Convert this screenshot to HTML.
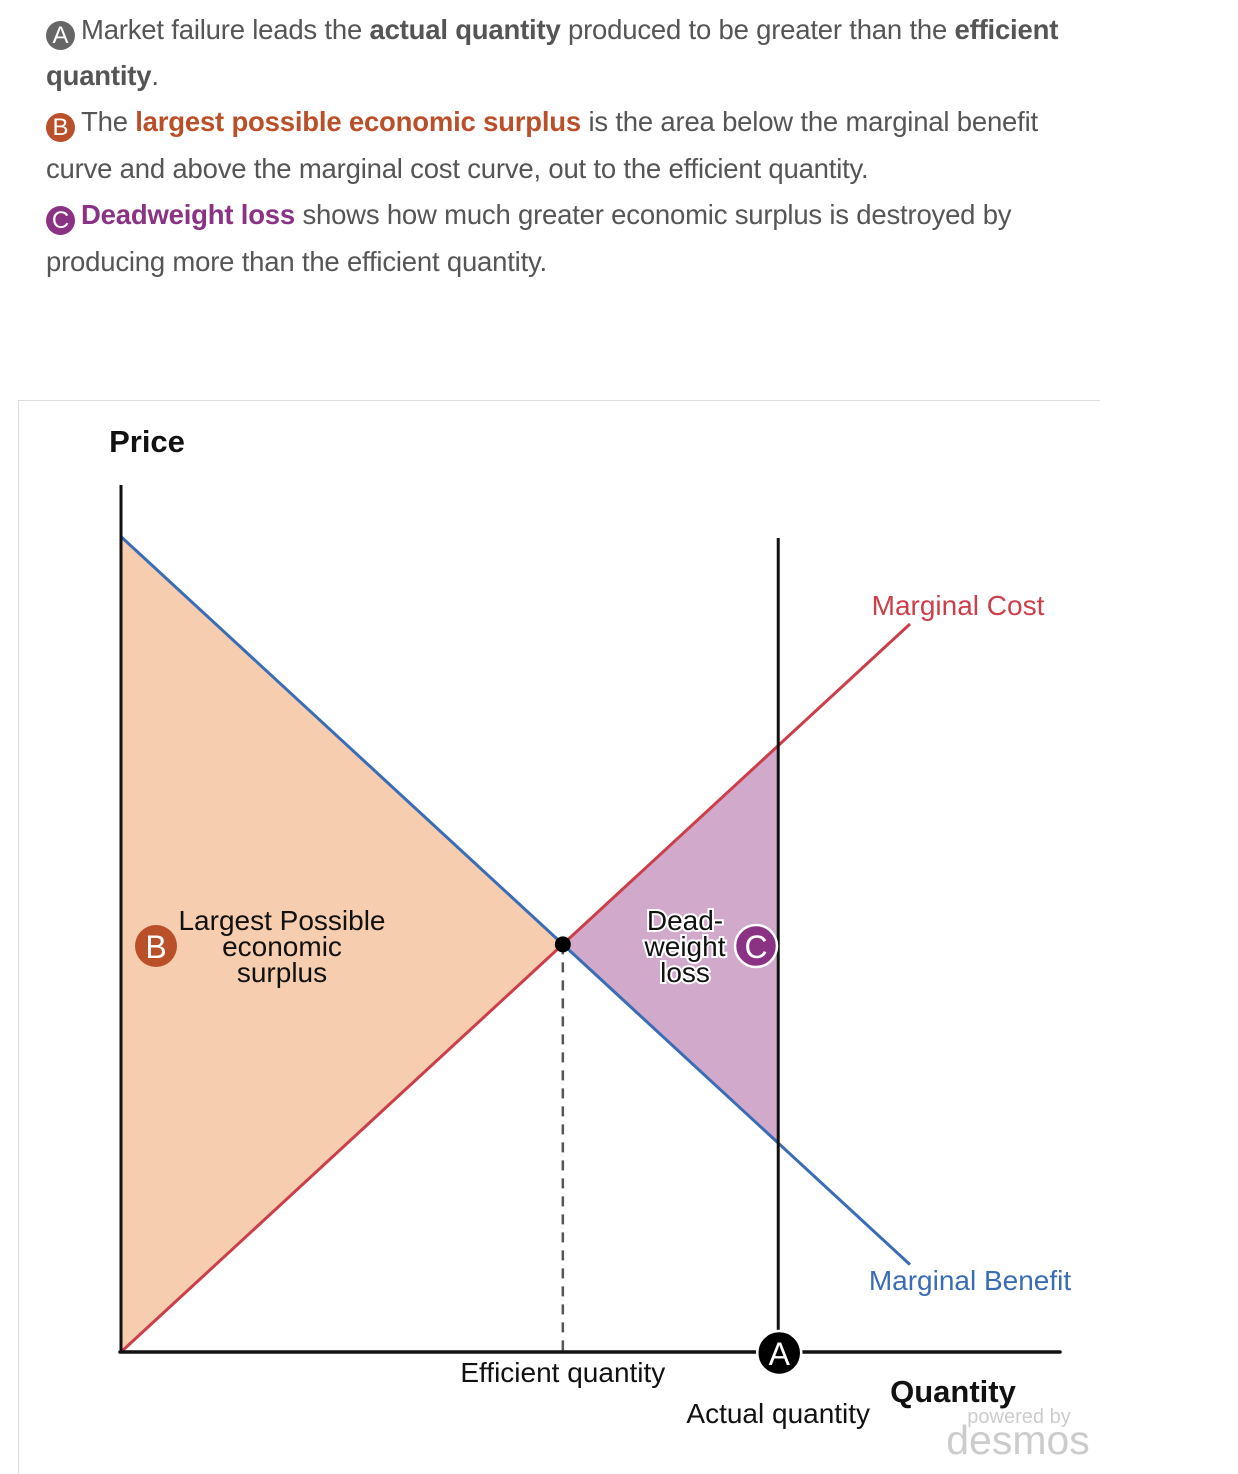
<!DOCTYPE html>
<html><head><meta charset="utf-8">
<style>
html,body{margin:0;padding:0;background:#fff;}
body{width:1238px;height:1474px;position:relative;overflow:hidden;font-family:"Liberation Sans",sans-serif;}
.t{position:absolute;left:46px;font-size:27.5px;color:#555;white-space:nowrap;letter-spacing:-0.2px;}
.t b{color:#555}
.badge{display:inline-block;width:29px;height:29px;border-radius:50%;color:#fff;font-size:24px;line-height:29px;text-align:center;vertical-align:-4px;margin-right:6px;letter-spacing:0}
#chart{position:absolute;left:0;top:0;}
</style></head><body>
<div class="t" style="top:14px"><span class="badge" style="background:#666">A</span>Market failure leads the <b>actual quantity</b> produced to be greater than the <b>efficient</b></div>
<div class="t" style="top:60px"><b>quantity</b>.</div>
<div class="t" style="top:106px"><span class="badge" style="background:#b9502a">B</span>The <b style="color:#b9502a">largest possible economic surplus</b> is the area below the marginal benefit</div>
<div class="t" style="top:153px">curve and above the marginal cost curve, out to the efficient quantity.</div>
<div class="t" style="top:199px"><span class="badge" style="background:#8a3284">C</span><b style="color:#8a3284">Deadweight loss</b> shows how much greater economic surplus is destroyed by</div>
<div class="t" style="top:246px">producing more than the efficient quantity.</div>

<svg id="chart" width="1238" height="1474">
<line x1="18" y1="400.5" x2="1100" y2="400.5" stroke="#ddd" stroke-width="1"/>
<line x1="18.5" y1="400" x2="18.5" y2="1474" stroke="#ddd" stroke-width="1"/>
<g id="g"></g>
</svg>
<script>
const qDomain=[0,10];
const pDomain=[0,11.2];
const mcQ=[0,10], mcP=[0,10];
const mbQ=[0,10], mbP=[11.2,1.2];
const efficientQ=[5.6];
const actualQ=[8.33];
const ns="http://www.w3.org/2000/svg";
const X=q=>121+(q-qDomain[0])*78.9;
const Y=p=>1352-(p-pDomain[0])*72.8;
const mc=q=>mcP[0]+(mcP[1]-mcP[0])*(q-mcQ[0])/(mcQ[1]-mcQ[0]);
const mb=q=>mbP[0]+(mbP[1]-mbP[0])*(q-mbQ[0])/(mbQ[1]-mbQ[0]);
const g=document.getElementById('g');
function mk(t,a,name){const e=document.createElementNS(ns,t);for(const k in a)e.setAttribute(k,a[k]);


g.appendChild(e);return e;}
function txt(x,y,s,size,fill,name,extra){const e=mk('text',Object.assign({x:x,y:y,'font-size':size,fill:fill,'font-family':'Liberation Sans, sans-serif','text-anchor':'middle'},extra||{}),name);e.textContent=s;return e;}
const eq=efficientQ[0], aq=actualQ[0];
mk('polygon',{points:`${X(0)},${Y(mb(0))} ${X(eq)},${Y(mb(eq))} ${X(0)},${Y(mc(0))}`,fill:'#f6cdae'},'surplus-area');
mk('polygon',{points:`${X(eq)},${Y(mc(eq))} ${X(aq)},${Y(mc(aq))} ${X(aq)},${Y(mb(aq))}`,fill:'#d0a9cb'},'deadweight-loss-area');
mk('line',{x1:X(eq),y1:Y(mc(eq)),x2:X(eq),y2:1352,stroke:'#555','stroke-width':2.5,'stroke-dasharray':'10,8'},'efficient-quantity-dash');
mk('line',{x1:X(mbQ[0]),y1:Y(mbP[0]),x2:X(mbQ[1]),y2:Y(mbP[1]),stroke:'#3a6db5','stroke-width':3},'marginal-benefit-line');
mk('line',{x1:X(mcQ[0]),y1:Y(mcP[0]),x2:X(mcQ[1]),y2:Y(mcP[1]),stroke:'#cc3e4a','stroke-width':3},'marginal-cost-line');
mk('line',{x1:121,y1:485,x2:121,y2:1353,stroke:'#111','stroke-width':3},'y-axis');
mk('line',{x1:120,y1:1352,x2:1060,y2:1352,stroke:'#111','stroke-width':3.5,'stroke-linecap':'round'},'x-axis');
mk('line',{x1:X(aq),y1:538,x2:X(aq),y2:1352,stroke:'#111','stroke-width':3},'actual-quantity-line');
mk('circle',{cx:X(eq),cy:Y(mc(eq)),r:8,fill:'#000'},'equilibrium-point');
txt(147,452,'Price',31,'#111','y-axis-title',{'font-weight':'bold'});
txt(953,1402,'Quantity',31,'#111','x-axis-title',{'font-weight':'bold'});
txt(958,615,'Marginal Cost',28,'#cc3e4a','marginal-cost-label');
txt(970,1290,'Marginal Benefit',28,'#3a6db5','marginal-benefit-label');
txt(X(eq),1382,'Efficient quantity',28,'#111','efficient-quantity-label');
txt(X(aq),1423,'Actual quantity',28,'#111','actual-quantity-label');
txt(1019,1423,'powered by',20,'#ccc','powered-by');
txt(1018,1454,'desmos',41,'#ccc','desmos-logo');
txt(282,930,'Largest Possible',28,'#111','surplus-label-1');
txt(282,956,'economic',28,'#111','surplus-label-2');
txt(282,982,'surplus',28,'#111','surplus-label-3');
['Dead-','weight','loss'].forEach((s,i)=>txt(685,930+26*i,s,28,'#111','dwl-label-'+(i+1),{stroke:'#fff','stroke-width':4,'paint-order':'stroke'}));
mk('circle',{cx:156,cy:946,r:21,fill:'#b9502a'},'badge-b');
txt(156,958,'B',32,'#fff','badge-b-letter');
mk('circle',{cx:756,cy:946,r:21,fill:'#8a3284',stroke:'#fff','stroke-width':2.5},'badge-c');
txt(756,958,'C',32,'#fff','badge-c-letter');
mk('circle',{cx:X(aq)+1,cy:1353,r:22,fill:'#000',stroke:'#fff','stroke-width':2.5},'badge-a');
txt(X(aq)+1,1365,'A',32,'#fff','badge-a-letter');
</script>
</body></html>
